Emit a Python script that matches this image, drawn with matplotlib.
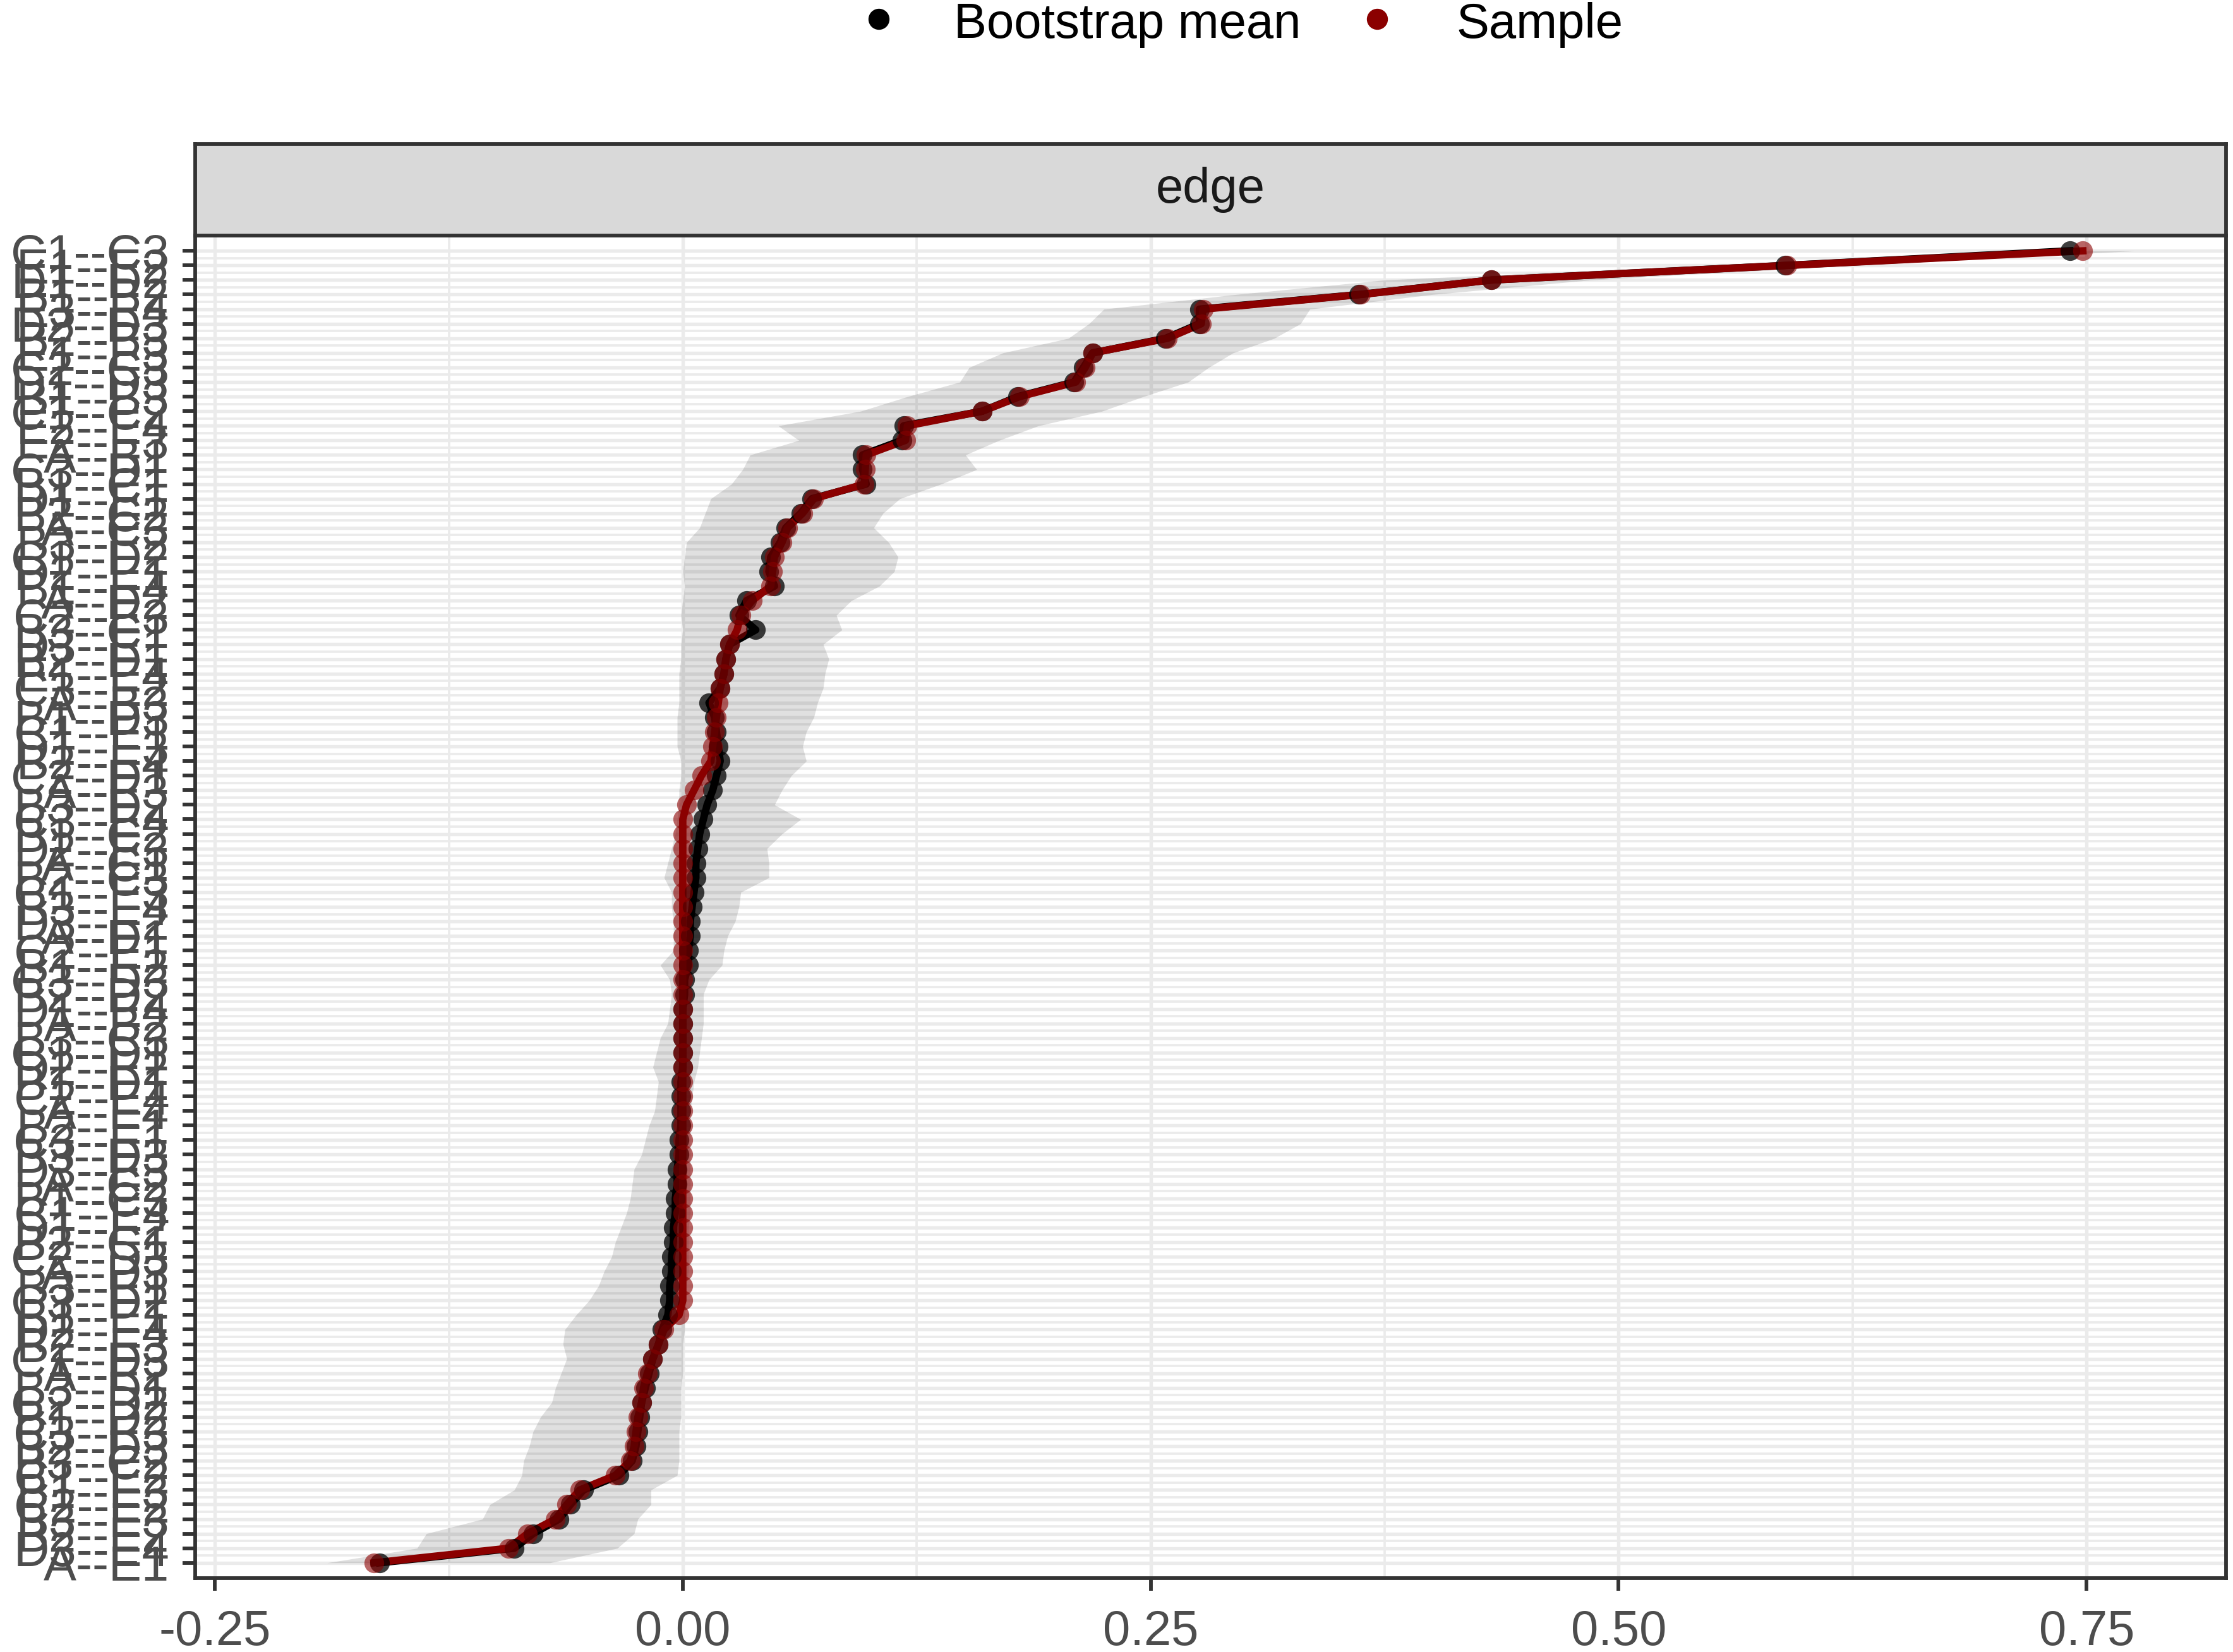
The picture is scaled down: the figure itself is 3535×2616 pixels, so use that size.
import numpy as np
import matplotlib.pyplot as plt
from matplotlib.lines import Line2D

plt.rcParams['font.family'] = ['Liberation Sans', 'DejaVu Sans']

# aristas ordenadas por el valor de la muestra (de arriba hacia abajo)
edge_labels = [
    "C1--C3", "E1--E2", "D1--D2", "B1--B2", "E3--E4", "D2--D3", "B2--B3", "E1--E3", "C2--C3", "D1--D3",
    "B1--B3", "C1--C2", "E2--E4", "E2--E3",
    "A--B1", "C3--D1", "B1--C1", "D1--E1", "B2--C2", "A--C3", "B3--E2", "C1--D2", "D2--E1", "B1--E4",
    "A--D2", "C2--E3", "B3--C1", "D3--E1", "B2--D1", "E1--E4", "C3--E2", "A--B3", "B1--D3", "C1--E1",
    "D1--E3", "B2--E4", "C2--D1", "A--E3", "B3--D2", "C3--E4", "B1--C2", "D2--E3", "A--C1", "B2--C3",
    "C1--E3", "B3--E4", "D3--E2", "A--D1", "C2--E1", "B1--E2", "C3--D3", "B2--D2", "D1--E4", "A--B2",
    "B3--C3", "C1--D1", "D2--E2", "B1--D1", "C2--E4", "A--E4", "B2--E1", "C3--E1", "B3--D3", "D3--E3",
    "A--C2", "B1--C3", "C1--E4", "D1--E2", "B2--C1", "C2--D3", "A--D3", "B3--E1", "C3--D2", "B1--E1",
    "D2--E4", "B2--E3", "C1--D3", "A--E2", "B3--D1", "C2--D2", "B1--D2", "C3--E3", "B2--D3", "B3--C2",
    "C1--E2", "B1--E3", "C2--E2", "B3--E3", "B2--E2",
    "D3--E4", "A--E1",
]

sample = [
    0.748, 0.590, 0.432, 0.362, 0.278, 0.277, 0.259, 0.219, 0.215, 0.210,
    0.180, 0.160, 0.120, 0.119, 0.098, 0.0975, 0.097, 0.070, 0.064, 0.056,
    0.053, 0.049, 0.048, 0.047, 0.037, 0.031, 0.029, 0.025, 0.023, 0.022,
    0.020, 0.019, 0.018, 0.017, 0.016, 0.015, 0.010, 0.006, 0.002, 0.000,
    0.000, 0.000, 0.000, 0.000, 0.000, 0.000, 0.000, 0.000, 0.000, 0.000,
    0.000, 0.000, 0.000, 0.000, 0.000, 0.000, 0.000, 0.000, 0.000, 0.000,
    0.000, 0.000, 0.000, 0.000, 0.000, 0.000, 0.000, 0.000, 0.000, 0.000,
    0.000, 0.000, 0.000, -0.002, -0.010, -0.013, -0.016, -0.019, -0.021, -0.022,
    -0.024, -0.025, -0.026, -0.028, -0.036, -0.055, -0.062, -0.068, -0.083, -0.093,
    -0.165,
]

boot_mean = [
    0.741, 0.589, 0.432, 0.361, 0.276, 0.276, 0.258, 0.219, 0.214, 0.209,
    0.179, 0.160, 0.118, 0.117, 0.096, 0.096, 0.098, 0.069, 0.063, 0.055,
    0.052, 0.047, 0.046, 0.049, 0.034, 0.030, 0.039, 0.025, 0.023, 0.022,
    0.020, 0.014, 0.017, 0.018, 0.019, 0.020, 0.018, 0.016, 0.013, 0.011,
    0.009, 0.008, 0.007, 0.007, 0.006, 0.005, 0.004, 0.004, 0.003, 0.003,
    0.001, 0.001, 0.000, 0.000, 0.000, 0.000, 0.000, -0.001, -0.001, -0.001,
    -0.001, -0.002, -0.002, -0.003, -0.003, -0.004, -0.004, -0.005, -0.005, -0.006,
    -0.006, -0.007, -0.007, -0.008, -0.011, -0.013, -0.016, -0.018, -0.020, -0.022,
    -0.023, -0.024, -0.025, -0.027, -0.034, -0.053, -0.060, -0.066, -0.080, -0.090,
    -0.162,
]

ci_lower = [
    0.705, 0.545, 0.375, 0.295, 0.225, 0.217, 0.206, 0.171, 0.153, 0.148,
    0.120, 0.095, 0.051, 0.062, 0.036, 0.032, 0.026, 0.015, 0.012, 0.009,
    0.002, 0.001, 0.000, 0.001, 0.000, -0.001, 0.000, -0.001, -0.001, -0.002,
    -0.002, -0.002, -0.003, -0.003, -0.003, -0.001, -0.001, -0.002, -0.002, -0.003,
    -0.004, -0.006, -0.008, -0.010, -0.006, -0.006, -0.005, -0.005, -0.005, -0.012,
    -0.007, -0.006, -0.007, -0.008, -0.012, -0.014, -0.016, -0.013, -0.014, -0.015,
    -0.018, -0.020, -0.022, -0.026, -0.027, -0.028, -0.030, -0.033, -0.036, -0.038,
    -0.042, -0.045, -0.050, -0.057, -0.063, -0.064, -0.062, -0.065, -0.068, -0.070,
    -0.076, -0.080, -0.082, -0.085, -0.086, -0.090, -0.103, -0.107, -0.137, -0.142,
    -0.190,
]

ci_upper = [
    0.776, 0.625, 0.485, 0.400, 0.335, 0.330, 0.316, 0.294, 0.281, 0.270,
    0.246, 0.224, 0.190, 0.169, 0.151, 0.157, 0.138, 0.116, 0.107, 0.102,
    0.110, 0.115, 0.113, 0.105, 0.090, 0.082, 0.085, 0.075, 0.078, 0.076,
    0.075, 0.072, 0.070, 0.066, 0.064, 0.066, 0.058, 0.053, 0.049, 0.063,
    0.053, 0.045, 0.046, 0.046, 0.031, 0.030, 0.028, 0.024, 0.022, 0.021,
    0.014, 0.011, 0.011, 0.011, 0.010, 0.009, 0.008, 0.006, 0.005, 0.004,
    0.004, 0.004, 0.004, 0.004, 0.004, 0.004, 0.004, 0.003, 0.003, 0.003,
    0.003, 0.002, 0.002, 0.001, 0.001, 0.000, 0.000, 0.000, -0.001, -0.001,
    -0.001, -0.002, -0.002, -0.002, -0.003, -0.017, -0.017, -0.024, -0.026, -0.035,
    -0.071,
]

x_ticks = [-0.25, 0.0, 0.25, 0.50, 0.75]
x_ticklabels = ["-0.25", "0.00", "0.25", "0.50", "0.75"]
x_minor = [-0.125, 0.125, 0.375, 0.625]

W, H = 3535, 2616
DPI = 300
FS = 18.7
RED = "#8B0000"
GRID = "#EBEBEB"
DARK = "#333333"

fig = plt.figure(figsize=(W / DPI, H / DPI), dpi=DPI)

# panel principal (coordenadas en pixeles de la figura)
left, right, top, bottom = 309, 3524, 373, 2499
ax = fig.add_axes([left / W, 1 - bottom / H, (right - left) / W, (bottom - top) / H])

pos = np.arange(len(sample))

ax.fill_betweenx(pos, ci_lower, ci_upper, color="black", alpha=0.12, linewidth=0, zorder=2)
ax.plot(boot_mean, pos, color="black", lw=2.8, zorder=3, solid_joinstyle="round")
ax.plot(sample, pos, color=RED, lw=2.8, zorder=3, solid_joinstyle="round")
ax.plot(boot_mean, pos, "o", color="black", ms=7.5, mew=0, alpha=0.75, zorder=4)
ax.plot(sample, pos, "o", color=RED, ms=7.5, mew=0, alpha=0.6, zorder=4)

ax.set_xlim(-0.2605, 0.8245)
ax.set_ylim(len(sample) - 1 + 1.05, -1.05)

ax.set_xticks(x_ticks)
ax.set_xticklabels(x_ticklabels)
ax.set_xticks(x_minor, minor=True)
ax.set_yticks(pos)
ax.set_yticklabels(edge_labels)
ax.set_yticks(pos[:-1] + 0.5, minor=True)

ax.grid(which="major", color=GRID, lw=1.3, zorder=0)
ax.grid(which="minor", color=GRID, lw=0.9, zorder=0)
ax.set_axisbelow(True)

ax.tick_params(which="major", length=4.8, width=1.4, color=DARK, labelsize=FS, labelcolor="#4D4D4D")
ax.tick_params(axis="x", pad=7)
ax.tick_params(axis="y", pad=5)
ax.tick_params(which="minor", length=0)
for sp in ax.spines.values():
    sp.set_color(DARK)
    sp.set_linewidth(1.4)

# franja con el titulo del panel
strip_top = 228
sax = fig.add_axes([left / W, 1 - top / H, (right - left) / W, (top - strip_top) / H])
sax.set_facecolor("#D9D9D9")
sax.set_xticks([])
sax.set_yticks([])
for sp in sax.spines.values():
    sp.set_color(DARK)
    sp.set_linewidth(1.4)
sax.text(0.5, 0.5, "edge", ha="center", va="center", fontsize=FS, color="#1A1A1A",
         transform=sax.transAxes)

# leyenda arriba
legend_items = [("Bootstrap mean", "black", 1391, 1510), ("Sample", RED, 2180, 2306)]
for name, col, x_dot, x_txt in legend_items:
    fig.add_artist(Line2D([x_dot / W], [1 - 30 / H], marker="o", color=col, ms=7,
                          linestyle="none", transform=fig.transFigure))
    fig.text(x_txt / W, 1 - 60 / H, name, fontsize=FS, ha="left", va="baseline", color="black")

fig.savefig("out.png", dpi=DPI)
